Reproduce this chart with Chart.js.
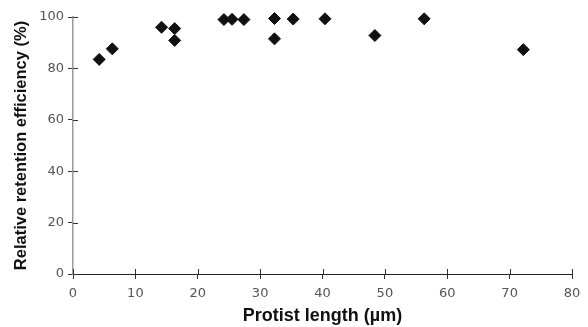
<!DOCTYPE html>
<html>
<head>
<meta charset="utf-8">
<script src="https://cdn.jsdelivr.net/npm/chart.js@4"></script>
<style>
  html, body { margin: 0; padding: 0; background: #fff; }
  #wrap { width: 588px; height: 327px; }
</style>
</head>
<body>
<div id="wrap"><canvas id="chart" width="588" height="327"></canvas></div>
<script>
// protist length (um) and relative retention efficiency (%)
var protistLength = [4.2, 6.3, 14.2, 16.3, 16.3, 24.2, 25.5, 27.4, 32.3, 32.3, 35.3, 40.4, 48.4, 56.3, 72.2];
var retention = [83.5, 87.6, 96.0, 95.5, 90.9, 99.0, 99.1, 99.0, 99.4, 91.5, 99.2, 99.3, 92.8, 99.3, 87.3];

var xTicks = [0, 10, 20, 30, 40, 50, 60, 70, 80];
var yTicks = [0, 20, 40, 60, 80, 100];

var points = protistLength.map(function (x, i) {
    return { x: x, y: retention[i] };
});

// small inward part of each tick so they cross the axis line
var crossTicks = {
    id: 'crossTicks',
    afterDraw: function (chart) {
        var ctx = chart.ctx;
        var xs = chart.scales.x, ys = chart.scales.y;
        ctx.save();
        ctx.lineWidth = 1;
        ctx.strokeStyle = '#333';
        ys.ticks.forEach(function (t, i) {
            var py = Math.round(ys.getPixelForTick(i)) + 0.5;
            ctx.beginPath();
            ctx.moveTo(ys.right, py);
            ctx.lineTo(ys.right + 5, py);
            ctx.stroke();
        });
        xs.ticks.forEach(function (t, i) {
            var px = Math.round(xs.getPixelForTick(i)) + 0.5;
            ctx.beginPath();
            ctx.moveTo(px, xs.top);
            ctx.lineTo(px, xs.top - 5);
            ctx.stroke();
        });
        ctx.restore();
    }
};

var ctx = document.getElementById('chart').getContext('2d');
var myChart = new Chart(ctx, {
    type: 'scatter',
    data: {
        datasets: [{
            label: 'Retention',
            data: points,
            pointStyle: 'rectRot',
            pointRadius: 6,
            pointHoverRadius: 6,
            backgroundColor: '#111',
            borderColor: '#111',
            borderWidth: 1
        }]
    },
    options: {
        responsive: false,
        animation: false,
        clip: false,
        layout: { padding: { top: 17, right: 16, left: 0, bottom: 0 } },
        plugins: {
            legend: { display: false },
            tooltip: { enabled: false }
        },
        scales: {
            x: {
                type: 'linear',
                min: 0,
                max: 80,
                afterBuildTicks: function (scale) {
                    scale.ticks = xTicks.map(function (v) { return { value: v }; });
                },
                afterFit: function (scale) { scale.height = 53; },
                border: { color: '#222', width: 1 },
                grid: { drawOnChartArea: false, tickLength: 5, color: '#333' },
                ticks: {
                    color: '#555',
                    padding: 7,
                    font: { family: 'DejaVu Sans', size: 13 }
                },
                title: {
                    display: true,
                    text: 'Protist length (µm)',
                    color: '#111',
                    padding: { top: 0, bottom: 0 },
                    font: { family: 'Liberation Sans', size: 18, weight: 'bold' }
                }
            },
            y: {
                type: 'linear',
                min: 0,
                max: 100,
                afterBuildTicks: function (scale) {
                    scale.ticks = yTicks.map(function (v) { return { value: v }; });
                },
                afterFit: function (scale) { scale.width = 73; },
                border: { color: '#999', width: 1.5 },
                grid: { drawOnChartArea: false, tickLength: 5, color: '#333' },
                ticks: {
                    color: '#555',
                    padding: 4,
                    font: { family: 'DejaVu Sans', size: 13 }
                },
                title: {
                    display: true,
                    text: 'Relative retention efficiency (%)',
                    color: '#111',
                    padding: { top: 12, bottom: 4 },
                    font: { family: 'Liberation Sans', size: 16.5, weight: 'bold' }
                }
            }
        }
    },
    plugins: [crossTicks]
});
</script>
</body>
</html>
